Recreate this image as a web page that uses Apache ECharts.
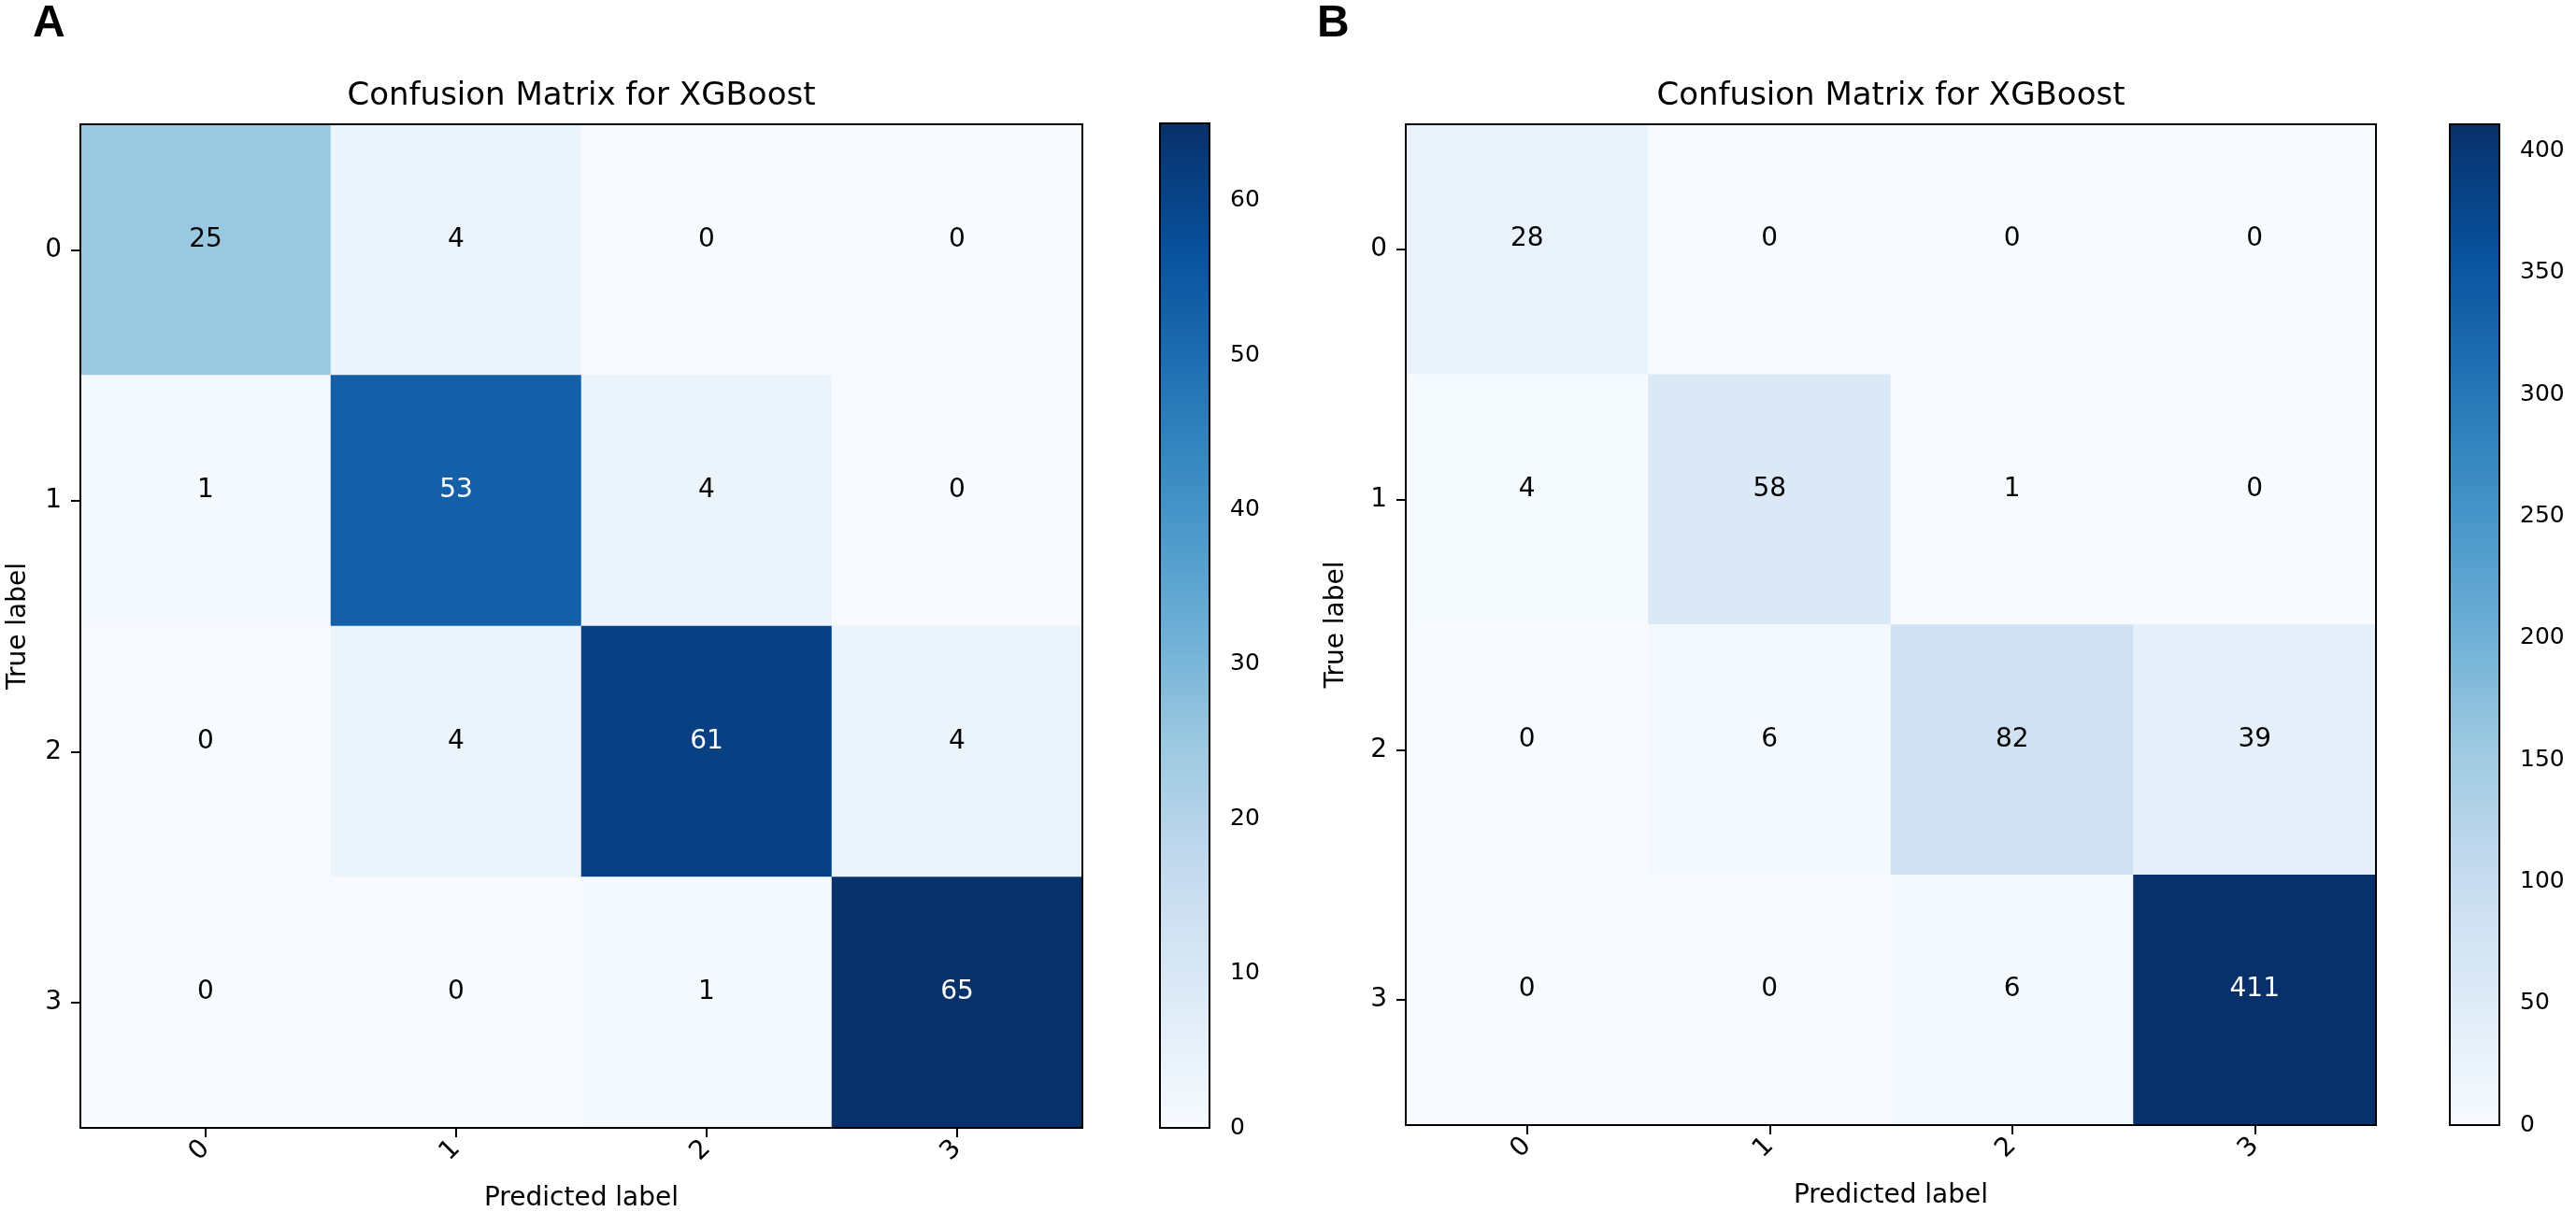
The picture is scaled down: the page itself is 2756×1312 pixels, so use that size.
<!DOCTYPE html>
<html>
<head>
<meta charset="utf-8">
<script src="https://cdn.jsdelivr.net/npm/echarts@6/dist/echarts.min.js"></script>
<style>
html,body{margin:0;padding:0;background:#fff;}
#chart{width:2756px;height:1312px;}
</style>
</head>
<body>
<div id="chart"></div>
<script>
// ---- data ----
const categories = ['0', '1', '2', '3'];
const titleA = 'Confusion Matrix for XGBoost';
const titleB = 'Confusion Matrix for XGBoost';
// rows = true label, columns = predicted label
const matrixA = [
  [25, 4, 0, 0],
  [1, 53, 4, 0],
  [0, 4, 61, 4],
  [0, 0, 1, 65]
];
const matrixB = [
  [28, 0, 0, 0],
  [4, 58, 1, 0],
  [0, 6, 82, 39],
  [0, 0, 6, 411]
];
const colorbarIntervalA = 10;
const colorbarIntervalB = 50;

// Matplotlib "Blues" colormap stops
const blues = ['#f7fbff', '#deebf7', '#c6dbef', '#9ecae1', '#6baed6', '#4292c6', '#2171b5', '#08519c', '#08306b'];

function matMax(m) { return Math.max.apply(null, m.map(r => Math.max.apply(null, r))); }
function matMin(m) { return Math.min.apply(null, m.map(r => Math.min.apply(null, r))); }
function toHeat(m) {
  const thr = matMax(m) / 2;
  const out = [];
  m.forEach((row, i) => row.forEach((v, j) => {
    out.push({ value: [j, i, v], label: { color: v > thr ? '#ffffff' : '#000000' } });
  }));
  return out;
}

const FONT = 'DejaVu Sans';
const TXT = '#000';

const heatGrids = [
  { left: 86, top: 133, width: 1072, height: 1074 },
  { left: 1504, top: 133, width: 1038, height: 1071 }
];
const barGrids = [
  { left: 1241, top: 132, width: 53, height: 1075 },
  { left: 2621, top: 133, width: 53, height: 1071 }
];

const grids = [];
heatGrids.forEach(g => grids.push(Object.assign({ show: true, borderColor: '#000', borderWidth: 2, backgroundColor: 'transparent', z: 5 }, g)));
barGrids.forEach(g => grids.push(Object.assign({ show: true, borderColor: '#000', borderWidth: 2, backgroundColor: 'transparent', z: 5 }, g)));

function catX(gi) {
  return {
    type: 'category', gridIndex: gi, data: categories, position: 'bottom',
    axisLine: { show: false },
    axisTick: { show: true, alignWithLabel: true, length: 10, lineStyle: { color: '#000', width: 2 } },
    axisLabel: { rotate: 45, fontSize: 28, fontFamily: FONT, color: TXT, margin: 18 },
    splitLine: { show: false },
    name: 'Predicted label', nameLocation: 'middle', nameGap: 62,
    nameTextStyle: { fontSize: 28, fontFamily: FONT, color: TXT }
  };
}
function catY(gi, gap) {
  return {
    type: 'category', gridIndex: gi, data: categories, inverse: true,
    axisLine: { show: false },
    axisTick: { show: true, alignWithLabel: true, length: 10, lineStyle: { color: '#000', width: 2 } },
    axisLabel: { fontSize: 28, fontFamily: FONT, color: TXT, margin: 20 },
    splitLine: { show: false },
    name: 'True label', nameLocation: 'middle', nameGap: gap, nameRotate: 90,
    nameTextStyle: { fontSize: 28, fontFamily: FONT, color: TXT }
  };
}
function barX(gi) {
  return { type: 'value', gridIndex: gi, min: 0, max: 1, show: false };
}
function barY(gi, maxv, interval) {
  return {
    type: 'value', gridIndex: gi, min: 0, max: maxv, interval: interval, position: 'right',
    axisLine: { show: false },
    axisTick: { show: true, length: 10, lineStyle: { color: '#000', width: 2 } },
    axisLabel: { fontSize: 25, fontFamily: FONT, color: TXT, margin: 22,
      showMaxLabel: false, formatter: v => String(v) },
    splitLine: { show: false }
  };
}

const maxA = matMax(matrixA), minA = matMin(matrixA);
const maxB = matMax(matrixB), minB = matMin(matrixB);

const labelStyle = { show: true, fontSize: 28, fontFamily: FONT, offset: [0, -11], formatter: p => String(p.value[2]) };

const option = {
  backgroundColor: '#fff',
  animation: false,
  grid: grids,
  xAxis: [catX(0), catX(1), barX(2), barX(3)],
  yAxis: [catY(0, 52), catY(1, 60), barY(2, maxA, colorbarIntervalA), barY(3, maxB, colorbarIntervalB)],
  visualMap: [
    { type: 'continuous', seriesIndex: 0, min: minA, max: maxA, calculable: false, realtime: false,
      orient: 'vertical', left: barGrids[0].left, top: barGrids[0].top,
      itemWidth: barGrids[0].width, itemHeight: barGrids[0].height, padding: 0, text: null, showLabel: false,
      inRange: { color: blues }, hoverLink: false },
    { type: 'continuous', seriesIndex: 1, min: minB, max: maxB, calculable: false, realtime: false,
      orient: 'vertical', left: barGrids[1].left, top: barGrids[1].top,
      itemWidth: barGrids[1].width, itemHeight: barGrids[1].height, padding: 0, text: null, showLabel: false,
      inRange: { color: blues }, hoverLink: false }
  ],
  graphic: [
    { type: 'text', left: 35, top: 2, style: { text: 'A', font: 'bold 48px "Liberation Sans", Arial, sans-serif', fill: '#000' } },
    { type: 'text', left: 1409, top: 2, style: { text: 'B', font: 'bold 48px "Liberation Sans", Arial, sans-serif', fill: '#000' } },
    { type: 'text', x: 622, y: 103, style: { text: titleA, font: '34px "DejaVu Sans"', fill: '#000', textAlign: 'center', textVerticalAlign: 'middle' } },
    { type: 'text', x: 2023, y: 103, style: { text: titleB, font: '34px "DejaVu Sans"', fill: '#000', textAlign: 'center', textVerticalAlign: 'middle' } }
  ],
  series: [
    { type: 'heatmap', xAxisIndex: 0, yAxisIndex: 0, data: toHeat(matrixA), label: labelStyle, emphasis: { disabled: true } },
    { type: 'heatmap', xAxisIndex: 1, yAxisIndex: 1, data: toHeat(matrixB), label: labelStyle, emphasis: { disabled: true } }
  ]
};

const chart = echarts.init(document.getElementById('chart'), null, { renderer: 'canvas' });
chart.setOption(option);
</script>
</body>
</html>
